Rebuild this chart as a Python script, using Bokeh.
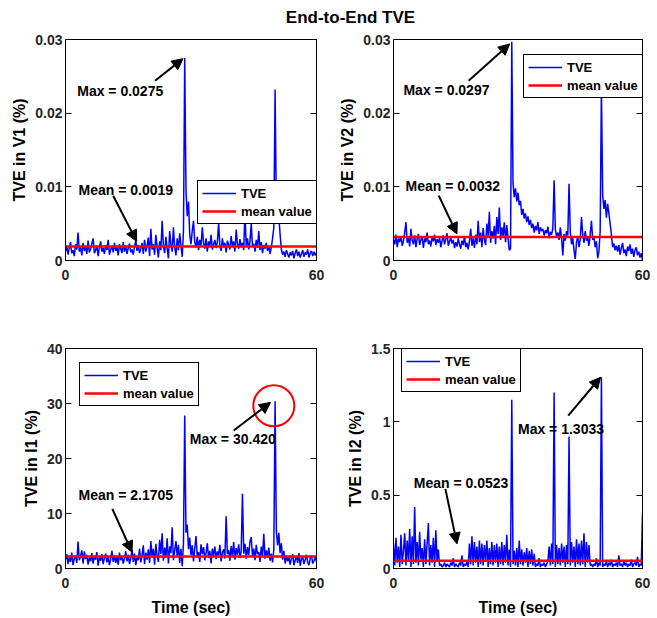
from bokeh.plotting import figure
from bokeh.layouts import column, row
from bokeh.models import (Div, Legend, LegendItem, Arrow, NormalHead, Label,
                          FixedTicker, LinearAxis, Range1d, ColumnDataSource,
                          CustomLabelingPolicy)
from bokeh.embed import file_html
from bokeh.resources import INLINE

# ---------------- data ----------------
SAMPLE_STEP = 0.3  # seconds between samples
X_TICKS = [0, 60]

TVE_V1 = [
    0.0012, 0.0020, 0.0008, 0.0017, 0.0025, 0.0010, 0.0014, 0.0006, 0.0022, 0.0015,
    0.0038, 0.0012, 0.0018, 0.0007, 0.0024, 0.0013, 0.0019, 0.0009, 0.0027, 0.0011,
    0.0016, 0.0023, 0.0030, 0.0010, 0.0014, 0.0020, 0.0006, 0.0018, 0.0026, 0.0012,
    0.0017, 0.0009, 0.0021, 0.0014, 0.0028, 0.0008, 0.0015, 0.0019, 0.0011, 0.0024,
    0.0013, 0.0018, 0.0007, 0.0022, 0.0016, 0.0010, 0.0025, 0.0012, 0.0020, 0.0009,
    0.0017, 0.0023, 0.0011, 0.0015, 0.0008, 0.0019, 0.0027, 0.0013, 0.0021, 0.0010,
    0.0016, 0.0024, 0.0009, 0.0028, 0.0012, 0.0020, 0.0031, 0.0006, 0.0043, 0.0015,
    0.0022, 0.0008, 0.0035, 0.0018, 0.0004, 0.0026, 0.0014, 0.0054, 0.0020, 0.0010,
    0.0032, 0.0016, 0.0003, 0.0040, 0.0022, 0.0012, 0.0045, 0.0018, 0.0007, 0.0030,
    0.0014, 0.0037, 0.0020, 0.0005, 0.0040, 0.0275, 0.0095, 0.0060, 0.0080, 0.0035,
    0.0022, 0.0040, 0.0054, 0.0025, 0.0018, 0.0032, 0.0014, 0.0028, 0.0020, 0.0045,
    0.0024, 0.0016, 0.0030, 0.0012, 0.0026, 0.0019, 0.0035, 0.0015, 0.0022, 0.0028,
    0.0017, 0.0025, 0.0051, 0.0020, 0.0013, 0.0030, 0.0018, 0.0024, 0.0011, 0.0027,
    0.0021, 0.0015, 0.0033, 0.0019, 0.0026, 0.0012, 0.0042, 0.0022, 0.0016, 0.0029,
    0.0018, 0.0024, 0.0014, 0.0065, 0.0020, 0.0030, 0.0015, 0.0026, 0.0050, 0.0019,
    0.0023, 0.0012, 0.0028, 0.0017, 0.0040, 0.0014, 0.0025, 0.0010, 0.0021, 0.0016,
    0.0024, 0.0013, 0.0020, 0.0009, 0.0018, 0.0030, 0.0045, 0.0232, 0.0070, 0.0050,
    0.0060, 0.0035, 0.0015, 0.0008, 0.0012, 0.0005, 0.0014, 0.0009, 0.0004, 0.0011,
    0.0007, 0.0013, 0.0003, 0.0010, 0.0015, 0.0006, 0.0012, 0.0004, 0.0009, 0.0014,
    0.0005, 0.0011, 0.0008, 0.0015, 0.0004, 0.0010, 0.0013, 0.0006, 0.0012, 0.0007,
    0.0010,
]

TVE_V2 = [
    0.0028, 0.0022, 0.0035, 0.0018, 0.0030, 0.0025, 0.0033, 0.0020, 0.0027, 0.0038,
    0.0052, 0.0024, 0.0031, 0.0019, 0.0043, 0.0027, 0.0022, 0.0034, 0.0018, 0.0029,
    0.0036, 0.0021, 0.0028, 0.0033, 0.0017, 0.0030, 0.0025, 0.0038, 0.0022, 0.0027,
    0.0019, 0.0032, 0.0026, 0.0035, 0.0021, 0.0029, 0.0024, 0.0031, 0.0018, 0.0027,
    0.0034, 0.0022, 0.0029, 0.0037, 0.0020, 0.0026, 0.0031, 0.0023, 0.0028, 0.0017,
    0.0025, 0.0019, 0.0030, 0.0022, 0.0016, 0.0027, 0.0021, 0.0033, 0.0018, 0.0024,
    0.0015, 0.0026, 0.0043, 0.0020, 0.0030, 0.0017, 0.0035, 0.0022, 0.0054, 0.0025,
    0.0038, 0.0018, 0.0044, 0.0028, 0.0021, 0.0050, 0.0033, 0.0066, 0.0024, 0.0040,
    0.0030, 0.0047, 0.0022, 0.0059, 0.0036, 0.0072, 0.0028, 0.0045, 0.0033, 0.0052,
    0.0025, 0.0048, 0.0030, 0.0014, 0.0016, 0.0297, 0.0105, 0.0086, 0.0098, 0.0080,
    0.0092, 0.0075, 0.0081, 0.0062, 0.0070, 0.0057, 0.0064, 0.0052, 0.0060, 0.0048,
    0.0055, 0.0044, 0.0050, 0.0038, 0.0047, 0.0041, 0.0052, 0.0036, 0.0045, 0.0040,
    0.0043, 0.0034, 0.0041, 0.0037, 0.0046, 0.0030, 0.0039, 0.0035, 0.0044, 0.0109,
    0.0042, 0.0033, 0.0038, 0.0028, 0.0045, 0.0031, 0.0007, 0.0036, 0.0027, 0.0040,
    0.0034, 0.0104, 0.0039, 0.0022, 0.0030, 0.0014, 0.0002, 0.0025, 0.0033, 0.0018,
    0.0029, 0.0059, 0.0035, 0.0024, 0.0040, 0.0027, 0.0031, 0.0020, 0.0036, 0.0054,
    0.0028, 0.0033, 0.0018, 0.0026, 0.0003, 0.0012, 0.0040, 0.0235, 0.0089, 0.0070,
    0.0082, 0.0058, 0.0077, 0.0064, 0.0050, 0.0036, 0.0018, 0.0023, 0.0014, 0.0020,
    0.0012, 0.0021, 0.0008, 0.0017, 0.0024, 0.0010, 0.0015, 0.0006, 0.0019, 0.0013,
    0.0022, 0.0009, 0.0016, 0.0005, 0.0014, 0.0018, 0.0007, 0.0012, 0.0004, 0.0010,
    0.0001,
]

TVE_I1 = [
    1.6, 2.6, 0.8, 2.1, 1.2, 2.9, 0.6, 1.8, 2.4, 1.0,
    4.9, 1.5, 2.2, 3.3, 0.9, 3.1, 1.7, 2.5, 0.7, 2.0,
    1.3, 2.8, 0.9, 2.3, 1.6, 3.0, 0.5, 2.0, 1.4, 2.6,
    0.8, 1.9, 2.7, 1.1, 2.2, 0.6, 1.7, 3.2, 1.2, 2.4,
    1.0, 2.1, 0.7, 2.9, 1.5, 2.3, 0.9, 1.8, 3.1, 1.3,
    2.5, 0.8, 1.9, 3.4, 1.2, 2.7, 0.6, 2.2, 1.5, 3.6,
    1.1, 2.4, 4.2, 0.8, 2.9, 1.6, 3.5, 1.0, 5.0, 2.0,
    3.6, 0.7, 4.5, 2.3, 1.2, 5.2, 2.6, 6.4, 1.4, 3.8,
    2.0, 5.5, 0.9, 4.0, 2.8, 7.5, 1.5, 3.3, 5.0, 2.2,
    4.3, 1.0, 3.6, 0.4, 4.6, 27.8, 6.5, 8.0, 3.5, 5.6,
    2.4, 4.2, 1.3, 3.7, 5.9, 2.1, 3.0, 1.2, 4.4, 2.6,
    3.9, 1.5, 2.8, 4.6, 1.9, 3.2, 0.9, 3.6, 2.3, 4.0,
    1.7, 3.1, 2.4, 4.3, 1.3, 2.9, 3.5, 1.8, 9.5, 2.6,
    3.4, 1.4, 4.1, 2.2, 4.8, 1.6, 3.7, 2.5, 4.4, 1.9,
    3.2, 13.6, 2.7, 4.5, 1.8, 3.9, 2.4, 4.9, 5.7, 2.1,
    3.6, 1.5, 4.3, 2.6, 3.0, 1.2, 4.0, 2.2, 6.3, 1.8,
    3.3, 2.0, 3.8, 1.4, 2.7, 1.1, 3.5, 30.42, 6.9, 4.2,
    6.5, 2.8, 4.6, 1.6, 3.2, 0.9, 2.4, 1.3, 2.0, 0.7,
    1.8, 2.6, 0.6, 1.5, 2.3, 1.0, 2.8, 0.5, 1.7, 2.2,
    0.8, 1.6, 2.5, 1.1, 0.6, 1.9, 2.4, 0.9, 1.4, 2.1,
    1.2,
]

TVE_I2 = [
    0.17, 0.02, 0.21, 0.04, 0.15, 0.01, 0.23, 0.03, 0.12, 0.24,
    0.02, 0.19, 0.05, 0.27, 0.01, 0.22, 0.03, 0.42, 0.04, 0.18,
    0.02, 0.25, 0.06, 0.14, 0.01, 0.20, 0.03, 0.17, 0.31, 0.02,
    0.16, 0.04, 0.21, 0.01, 0.26, 0.05, 0.13, 0.02, 0.03, 0.01,
    0.02, 0.04, 0.01, 0.03, 0.02, 0.01, 0.04, 0.02, 0.07, 0.01,
    0.03, 0.02, 0.01, 0.04, 0.02, 0.09, 0.01, 0.03, 0.02, 0.05,
    0.01, 0.17, 0.03, 0.22, 0.02, 0.18, 0.04, 0.15, 0.01, 0.19,
    0.03, 0.17, 0.02, 0.16, 0.05, 0.19, 0.01, 0.14, 0.03, 0.18,
    0.02, 0.16, 0.04, 0.17, 0.01, 0.15, 0.03, 0.18, 0.02, 0.16,
    0.04, 0.23, 0.02, 0.13, 0.01, 1.15, 0.03, 0.12, 0.02, 0.14,
    0.01, 0.19, 0.03, 0.13, 0.02, 0.11, 0.04, 0.14, 0.01, 0.12,
    0.03, 0.13, 0.02, 0.10, 0.01, 0.03, 0.02, 0.07, 0.01, 0.03,
    0.02, 0.04, 0.01, 0.03, 0.05, 0.15, 0.02, 0.17, 0.03, 1.20,
    0.01, 0.16, 0.03, 0.14, 0.02, 0.17, 0.04, 0.15, 0.01, 0.16,
    0.03, 0.90, 0.02, 0.18, 0.04, 0.15, 0.01, 0.20, 0.03, 0.17,
    0.02, 0.19, 0.03, 0.24, 0.01, 0.18, 0.04, 0.16, 0.02, 0.03,
    0.01, 0.03, 0.02, 0.07, 0.01, 0.04, 0.02, 1.3033, 0.01, 0.03,
    0.02, 0.05, 0.01, 0.04, 0.02, 0.06, 0.01, 0.03, 0.02, 0.04,
    0.01, 0.09, 0.02, 0.03, 0.01, 0.05, 0.02, 0.04, 0.01, 0.03,
    0.02, 0.06, 0.01, 0.03, 0.04, 0.02, 0.08, 0.01, 0.03, 0.02,
    0.38,
]

MEAN_V1 = 0.0019
MEAN_V2 = 0.0032
MEAN_I1 = 2.1705
MEAN_I2 = 0.0523

Y_TICKS_V = [0, 0.01, 0.02, 0.03]
Y_LABELS_V = ["0", "0.01", "0.02", "0.03"]
Y_TICKS_I1 = [0, 10, 20, 30, 40]
Y_LABELS_I1 = ["0", "10", "20", "30", "40"]
Y_TICKS_I2 = [0, 0.5, 1, 1.5]
Y_LABELS_I2 = ["0", "0.5", "1", "1.5"]

TIME = [round(i * SAMPLE_STEP, 1) for i in range(len(TVE_V1))]

# ---------------- styling / layout ----------------
FONT = "Liberation Sans"
HIDE_LABELS = "for (const i of indices) { indices.unset(i) }\nreturn indices"


def panel(values, mean, y_end, yticks, ylabels, ylabel, xlabel,
          width, height, borders, legend_xy, notes, circle=None):
    left, right, top, bottom = borders
    p = figure(width=width, height=height,
               x_range=Range1d(0, 60), y_range=Range1d(0, y_end),
               output_backend="svg", toolbar_location=None,
               min_border_left=left, min_border_right=right,
               min_border_top=top, min_border_bottom=bottom,
               margin=(0, 0, 0, 0))
    p.grid.visible = False
    p.outline_line_color = "black"
    p.outline_line_alpha = 1.0
    p.outline_line_width = 1
    p.background_fill_color = "white"
    p.border_fill_color = "white"

    src = ColumnDataSource(dict(t=TIME, v=values))
    r_tve = p.line("t", "v", source=src, line_color="#0000FF", line_width=1.5)
    r_mean = p.line([TIME[0], TIME[-1]], [mean, mean], line_color="#FF0000",
                    line_width=2.5)

    xa = p.xaxis[0]
    xa.ticker = FixedTicker(ticks=X_TICKS)
    xa.major_label_standoff = 9
    if xlabel:
        xa.axis_label = xlabel
    ya = p.yaxis[0]
    ya.ticker = FixedTicker(ticks=yticks)
    ya.major_label_overrides = {t: s for t, s in zip(yticks, ylabels)}
    ya.major_label_standoff = 3
    ya.axis_label = ylabel

    for ax in p.xaxis + p.yaxis:
        ax.major_label_text_font = FONT
        ax.major_label_text_font_size = "14px"
        ax.major_label_text_font_style = "bold"
        ax.major_label_text_color = "#262626"
        ax.axis_label_text_font = FONT
        ax.axis_label_text_font_size = "16px"
        ax.axis_label_text_font_style = "bold"
        ax.axis_label_text_color = "black"
        ax.axis_label_standoff = 4
        ax.major_tick_in = 6
        ax.major_tick_out = 0
        ax.minor_tick_in = 0
        ax.minor_tick_out = 0
        ax.axis_line_color = "black"
        ax.major_tick_line_color = "black"
    xa.axis_label_standoff = 8

    # tick marks on the right edge (box style), without labels
    ry = LinearAxis(ticker=FixedTicker(ticks=yticks),
                    major_label_text_font_size="1px",
                    major_label_policy=CustomLabelingPolicy(code=HIDE_LABELS),
                    major_label_standoff=0, major_tick_in=6, major_tick_out=0,
                    minor_tick_in=0, minor_tick_out=0,
                    axis_line_color="black", major_tick_line_color="black")
    p.add_layout(ry, "right")

    for (x0, y0, x1, y1) in notes["arrows"]:
        p.add_layout(Arrow(end=NormalHead(size=11, fill_color="black",
                                          line_color="black", line_width=1),
                           x_start=x0, y_start=y0, x_end=x1, y_end=y1,
                           line_color="black", line_width=2))
    for (x, y, txt) in notes["texts"]:
        p.add_layout(Label(x=x, y=y, text=txt, text_font=FONT,
                           text_font_size="14px", text_font_style="bold",
                           text_color="black", text_align="left",
                           text_baseline="middle"))
    if circle is not None:
        cx, cy, cd = circle
        p.scatter(x=[cx], y=[cy], marker="circle", size=cd, fill_alpha=0,
                  line_color="#FF0000", line_width=2)

    leg = Legend(items=[LegendItem(label="TVE", renderers=[r_tve]),
                        LegendItem(label="mean value", renderers=[r_mean])],
                 location=legend_xy, margin=0, padding=4, spacing=2,
                 glyph_width=34, glyph_height=16, label_height=16,
                 label_standoff=5, border_line_color="black",
                 border_line_width=1, border_line_alpha=1,
                 background_fill_color="white", background_fill_alpha=1,
                 label_text_font=FONT, label_text_font_size="13px",
                 label_text_font_style="bold", label_text_color="black")
    p.add_layout(leg)
    return p


p1 = panel(TVE_V1, MEAN_V1, 0.03, Y_TICKS_V, Y_LABELS_V, "TVE in V1 (%)", None,
           328, 270, (65, 12, 9, 40), (132, 36),
           {"arrows": [(21.4, 0.0244, 28.1, 0.0274), (11.4, 0.0088, 17.0, 0.0026)],
            "texts": [(2.8, 0.0230, "Max = 0.0275"), (3.1, 0.0096, "Mean = 0.0019")]})
p2 = panel(TVE_V2, MEAN_V2, 0.03, Y_TICKS_V, Y_LABELS_V, "TVE in V2 (%)", None,
           329, 270, (65, 15, 9, 40), (130, 162),
           {"arrows": [(18.1, 0.0244, 28.0, 0.0294), (10.9, 0.0088, 15.3, 0.0036)],
            "texts": [(2.4, 0.0231, "Max = 0.0297"), (2.9, 0.0101, "Mean = 0.0032")]})
p3 = panel(TVE_I1, MEAN_I1, 40, Y_TICKS_I1, Y_LABELS_I1, "TVE in I1 (%)", "Time (sec)",
           328, 318, (65, 12, 48, 50), (14, 162),
           {"arrows": [(40.2, 25.1, 49.0, 30.2), (11.2, 10.85, 15.9, 2.96)],
            "texts": [(29.7, 23.6, "Max = 30.420"), (3.1, 13.3, "Mean = 2.1705")]},
           circle=(49.8, 29.6, 41))
p4 = panel(TVE_I2, MEAN_I2, 1.5, Y_TICKS_I2, Y_LABELS_I2, "TVE in I2 (%)", "Time (sec)",
           329, 318, (65, 15, 48, 50), (8, 176),
           {"arrows": [(42.1, 1.043, 49.9, 1.304), (12.5, 0.543, 15.3, 0.168)],
            "texts": [(30.0, 0.952, "Max = 1.3033"), (4.9, 0.583, "Mean = 0.0523")]})

title = Div(text=('<div style="margin-left:44px;width:613px;text-align:center;'
                  'padding-top:9px;font-family:\'Liberation Sans\';font-size:17px;'
                  'font-weight:bold;line-height:18px;color:black;">End-to-End TVE</div>'),
            width=657, height=30, margin=(0, 0, 0, 0))

layout = column(title, row(p1, p2, margin=(0, 0, 0, 0)),
                row(p3, p4, margin=(0, 0, 0, 0)), margin=(0, 0, 0, 0))

open("out.html", "w").write(file_html(layout, INLINE))
